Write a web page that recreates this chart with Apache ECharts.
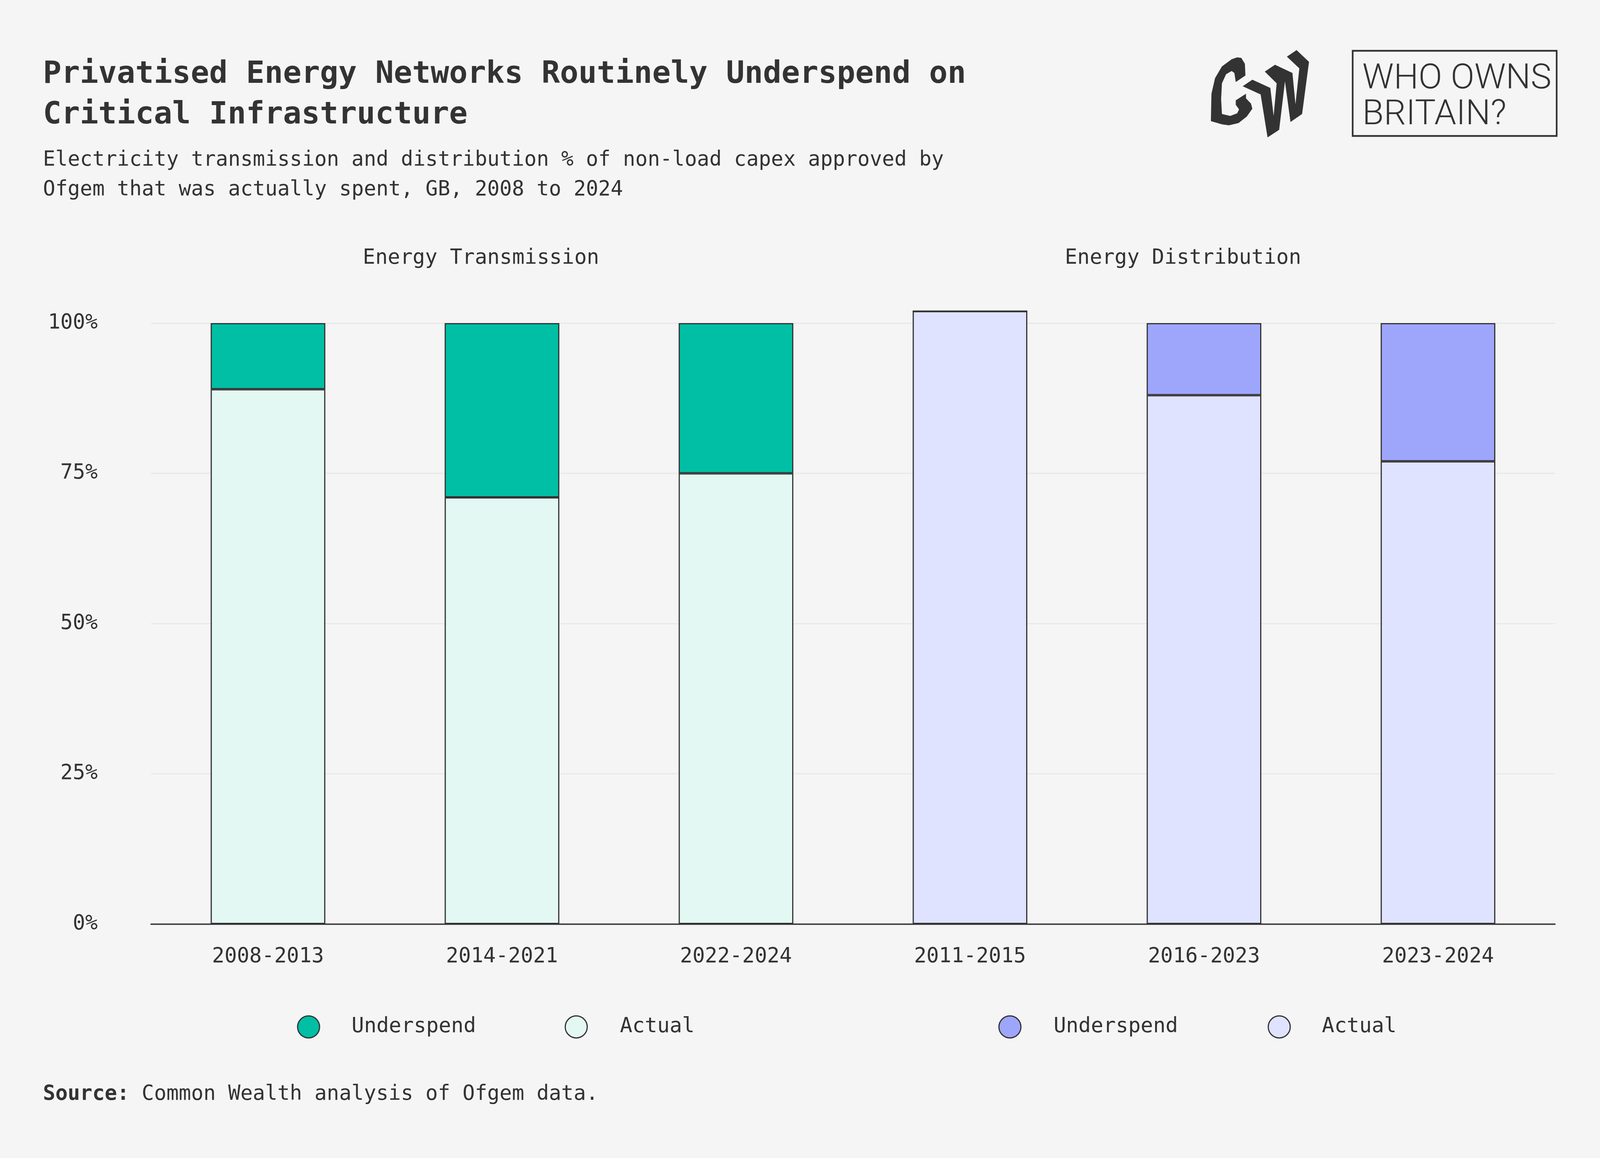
<!DOCTYPE html>
<html><head><meta charset="utf-8">
<script src="https://cdn.jsdelivr.net/npm/echarts@6/dist/echarts.min.js"></script>
<style>html,body{margin:0;padding:0;background:#f5f5f5;overflow:hidden}#c{position:absolute;left:0;top:0}</style>
</head><body><div id="c"></div>
<script>
// ---- data ----
const categories = ['2008-2013', '2014-2021', '2022-2024', '2011-2015', '2016-2023', '2023-2024'];
const transmissionActual = [89, 71, 75, '-', '-', '-'];
const transmissionUnderspend = [11, 29, 25, '-', '-', '-'];
const distributionActual = ['-', '-', '-', 102, 88, 77];
const distributionUnderspend = ['-', '-', '-', 0, 12, 23];
const yTickStep = 25;
const yMax = 100;
const panelTitles = ['Energy Transmission', 'Energy Distribution'];
const legendLabels = ['Underspend', 'Actual'];

// ---- layout: designed on a 4800 x 2964 frame, mapped onto the actual window ----
const W0 = 4800, H0 = 2964;
const VW = window.innerWidth || W0, VH = window.innerHeight || H0;
const sx = VW / W0, sy = VH / H0;
const X = v => v * sx, Y = v => v * sy, F = v => v * Math.min(sx, sy);
const el = document.getElementById('c');
el.style.width = VW + 'px';
el.style.height = VH + 'px';

// ---- style ----
const FONT = "'DejaVu Sans Mono', 'Liberation Mono', monospace";
const INK = '#333333';
const C = {tUnder: '#00BFA5', tActual: '#E3F8F2', dUnder: '#9EA6FC', dActual: '#DFE3FF'};

// logo outline (decorative brand mark)
function lp(pts) { return pts.map(p => [X(3500 + p[0] / 1.206), Y(80 + p[1] / 3)]); }
const logoC = lp([[285,340],[283,250],[270,205],[255,200],[235,215],[200,270],[175,360],[162,480],[160,690],[200,715],[225,722],[260,705],[290,655],[310,595],[305,555],[287,515],[287,480],[250,530],[250,565],[262,600],[255,630],[230,650],[200,635],[197,520],[200,400],[215,330],[235,305],[245,320],[250,390]]);
const logoW = lp([[275,422],[310,372],[375,435],[387,650],[398,400],[355,310],[392,257],[455,320],[466,560],[480,285],[435,195],[470,145],[515,235],[490,635],[448,697],[428,385],[407,757],[365,815],[340,485]]);

const chart = echarts.init(el, null, {renderer: 'canvas', width: VW, height: VH});

const BW = F(3.5);
function bar(name, data, color) {
  return {
    type: 'bar', name: name, data: data, stack: 'total', barWidth: X(344), clip: false,
    itemStyle: {color: color, borderColor: INK, borderWidth: BW},
    emphasis: {disabled: true}
  };
}

const R = F(33);
function legendAt(cx, textX, name) {
  return {
    left: X(cx) - R, top: Y(2627) - R, padding: 0, orient: 'horizontal',
    data: [name], icon: 'circle', itemWidth: 2 * R, itemHeight: 2 * R,
    selectedMode: false,
    formatter: n => n.split('|')[1],
    textStyle: {fontFamily: FONT, fontSize: F(62), color: INK, padding: [0, 0, 0, Math.max(0, X(textX) - X(cx) - R - 5)]},
    itemStyle: {borderColor: INK, borderWidth: BW}
  };
}

chart.setOption({
  backgroundColor: '#F5F5F5',
  animation: false,
  title: [
    {text: 'Privatised Energy Networks Routinely Underspend on\nCritical Infrastructure',
     left: X(129), top: Y(192) - Y(52), padding: 0,
     textStyle: {fontFamily: FONT, fontSize: F(92), fontWeight: 'bold', color: INK, lineHeight: Y(104)}},
    {text: 'Electricity transmission and distribution % of non-load capex approved by\nOfgem that was actually spent, GB, 2008 to 2024',
     left: X(129), top: Y(410) - Y(38), padding: 0,
     textStyle: {fontFamily: FONT, fontSize: F(61.5), fontWeight: 'normal', color: INK, lineHeight: Y(76)}},
    {text: '{b|Source:} Common Wealth analysis of Ofgem data.',
     left: X(129), top: Y(2801) - Y(31), padding: 0,
     textStyle: {fontFamily: FONT, fontSize: F(61.5), fontWeight: 'normal', color: INK, lineHeight: Y(62),
       rich: {b: {fontFamily: FONT, fontSize: F(61.5), fontWeight: 'bold', color: INK, lineHeight: Y(62)}}}}
  ],
  legend: [
    legendAt(924, 1053, 'Transmission|' + legendLabels[0]),
    legendAt(1727, 1858, 'Transmission|' + legendLabels[1]),
    legendAt(3028, 3159, 'Distribution|' + legendLabels[0]),
    legendAt(3836, 3964, 'Distribution|' + legendLabels[1])
  ],
  grid: {left: X(453), right: X(135), top: Y(827), bottom: Y(599), containLabel: false},
  xAxis: {
    type: 'category', data: categories,
    axisLine: {lineStyle: {color: INK, width: F(4)}},
    axisTick: {show: false},
    axisLabel: {fontFamily: FONT, fontSize: F(62), color: INK, margin: Y(58)}
  },
  yAxis: {
    type: 'value', min: 0, max: yMax, interval: yTickStep,
    axisLine: {show: false}, axisTick: {show: false},
    axisLabel: {fontFamily: FONT, fontSize: F(62), color: INK, margin: X(160), padding: [Y(24), 0, 0, 0], formatter: v => v + '%'},
    splitLine: {lineStyle: {color: '#E6E6E6', width: F(3)}}
  },
  series: [
    bar('Transmission|Actual', transmissionActual, C.tActual),
    bar('Transmission|Underspend', transmissionUnderspend, C.tUnder),
    bar('Distribution|Actual', distributionActual, C.dActual),
    bar('Distribution|Underspend', distributionUnderspend, C.dUnder)
  ],
  graphic: [
    {type: 'text', x: X(1443), y: Y(661), style: {text: panelTitles[0], font: F(62) + 'px ' + FONT, fill: INK, align: 'center', verticalAlign: 'middle'}},
    {type: 'text', x: X(3549), y: Y(661), style: {text: panelTitles[1], font: F(62) + 'px ' + FONT, fill: INK, align: 'center', verticalAlign: 'middle'}},
    {type: 'polygon', shape: {points: logoC}, style: {fill: INK}},
    {type: 'polygon', shape: {points: logoW}, style: {fill: INK}},
    {type: 'rect', shape: {x: X(4058), y: Y(130), width: X(612), height: Y(218)}, style: {fill: 'none', stroke: INK, lineWidth: F(5)}},
    {type: 'text', x: X(4087), y: Y(204), style: {text: 'WHO OWNS', font: '300 ' + F(105) + 'px Roboto', fill: INK, verticalAlign: 'middle'}},
    {type: 'text', x: X(4087), y: Y(296), style: {text: 'BRITAIN?', font: '300 ' + F(105) + 'px Roboto', fill: INK, verticalAlign: 'middle'}}
  ]
});
</script></body></html>
